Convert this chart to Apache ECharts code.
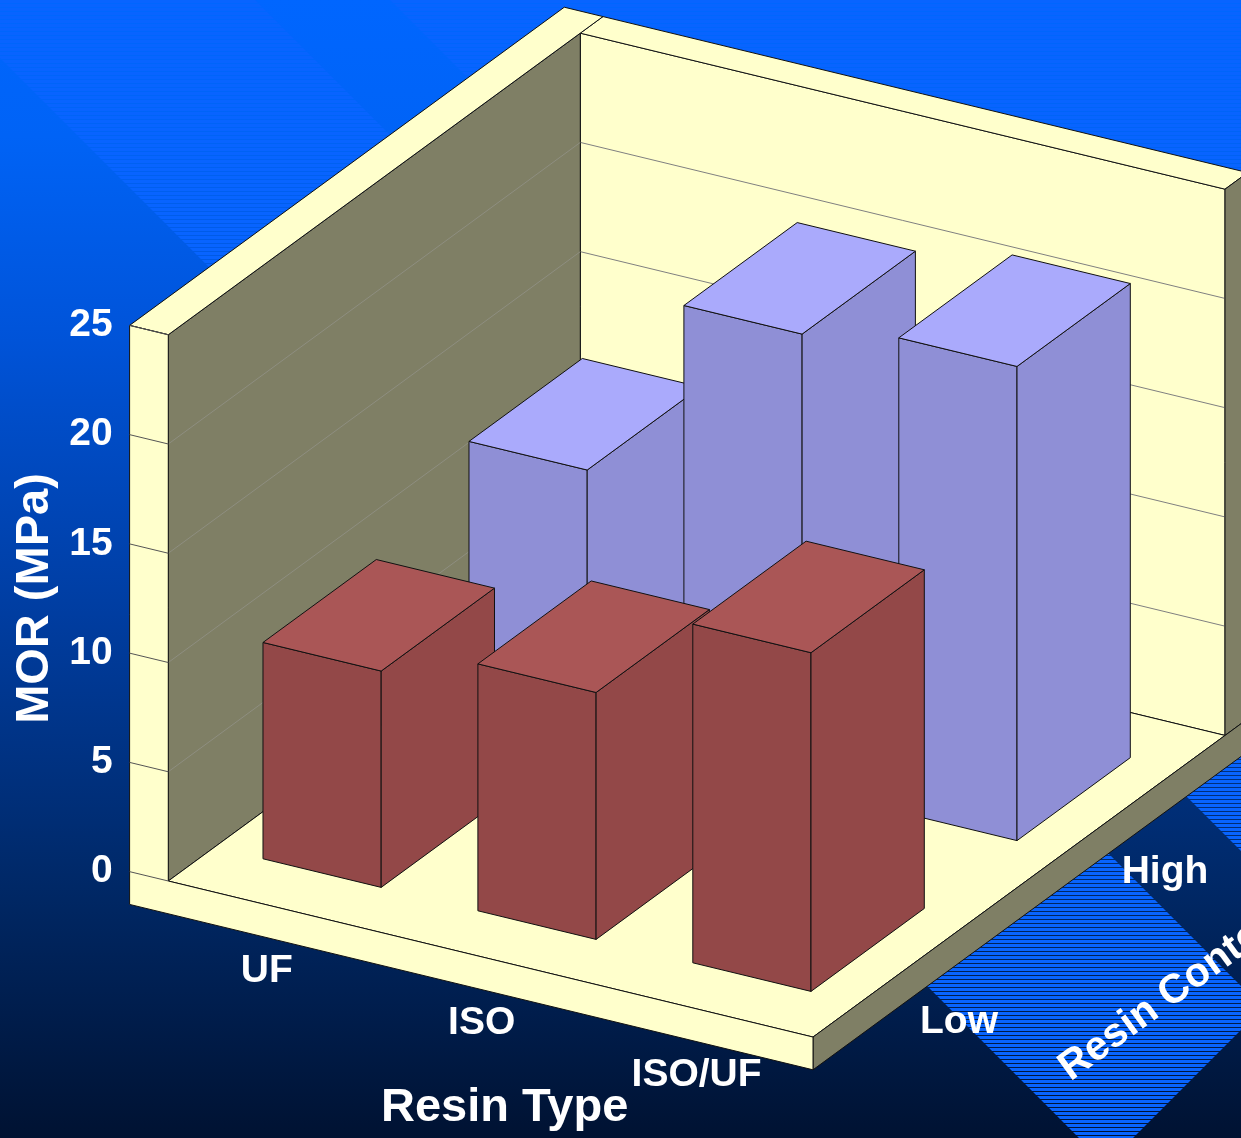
<!DOCTYPE html>
<html>
<head>
<meta charset="utf-8">
<script src="https://cdn.jsdelivr.net/npm/echarts@6/dist/echarts.min.js"></script>
<style>
html, body { margin: 0; padding: 0; background: #001030; }
#chart { width: 1241px; height: 1138px; }
</style>
</head>
<body>
<div id="chart"></div>
<script>
// data
var resinTypes = ['UF', 'ISO', 'ISO/UF'];
var resinContents = ['Low', 'High'];
var morLow = [9.9, 11.3, 15.5];
var morHigh = [12.2, 20.8, 21.7];
var yTicks = [0, 5, 10, 15, 20, 25];

// 3d box layout (in axis units)
var Y_MAX = 25;
var WALL_T = 0.18;      // left wall thickness, category units
var BACK_T = 0.11;      // back wall thickness, row units
var FLOOR_T = 1.5;      // floor thickness, MOR units
var BAR_W = 0.55, BAR_D = 0.55;
var SKEW = 0.242;       // screen drop per px along the category axis
var Z_DX = 0.9586, Z_DY = -0.7017;  // one row of depth, in category px

var FONT = '"Liberation Sans", Arial, sans-serif';
var C = {
  yellow: '#FFFFCC',
  olive: '#7F7F65',
  edge: '#111111',
  grid: '#808080',
  wallGrid: '#8E8E80',
  lowFront: '#934848', lowTop: '#AA5656',
  highFront: '#8F8FD6', highTop: '#AAAAFC'
};

// oblique projection; the y axis line sits on the outer front edge of the left wall
function makeProj(api) {
  var o = api.coord([0, 0]);
  var a = api.coord([1, 0]);
  var b = api.coord([0, 1]);
  var ux = a[0] - o[0];
  var uy = b[1] - o[1];
  return function (x, y, z) {
    return [o[0] + x * ux + z * ux * Z_DX,
            o[1] + y * uy + (x + WALL_T) * ux * SKEW + z * ux * Z_DY];
  };
}

function renderFrame(params, api) {
  var P = makeProj(api);
  var W = resinTypes.length, D = resinContents.length, T = Y_MAX;
  var xw = -WALL_T, zb = D + BACK_T, yb = -FLOOR_T;
  var ch = [];
  function face(pts, fill) {
    ch.push({ type: 'polygon', shape: { points: pts }, style: { fill: fill, stroke: C.edge, lineWidth: 1 } });
  }
  function line(a, b, color) {
    ch.push({ type: 'line', shape: { x1: a[0], y1: a[1], x2: b[0], y2: b[1] }, style: { stroke: color, lineWidth: 1 } });
  }
  function label(txt, p, dx, dy, size, rot) {
    ch.push({ type: 'text', x: p[0] + dx, y: p[1] + dy, rotation: rot || 0,
      style: { text: txt, fill: '#ffffff', font: 'bold ' + size + 'px ' + FONT, align: 'center', verticalAlign: 'middle' } });
  }

  // back wall
  face([P(0, 0, D), P(W, 0, D), P(W, T, D), P(0, T, D)], C.yellow);
  yTicks.forEach(function (v) { if (v > 0 && v < T) line(P(0, v, D), P(W, v, D), C.grid); });
  face([P(0, T, D), P(W, T, D), P(W, T, zb), P(0, T, zb)], C.yellow);
  face([P(W, 0, D), P(W, 0, zb), P(W, T, zb), P(W, T, D)], C.olive);
  // left wall
  face([P(0, 0, 0), P(0, 0, D), P(0, T, D), P(0, T, 0)], C.olive);
  yTicks.forEach(function (v) { if (v > 0 && v < T) line(P(0, v, 0), P(0, v, D), C.wallGrid); });
  face([P(xw, T, 0), P(0, T, 0), P(0, T, zb), P(xw, T, zb)], C.yellow);
  // floor
  face([P(0, 0, 0), P(W, 0, 0), P(W, 0, D), P(0, 0, D)], C.yellow);
  face([P(W, yb, 0), P(W, yb, zb), P(W, 0, zb), P(W, 0, 0)], C.olive);
  face([P(xw, T, 0), P(0, T, 0), P(0, 0, 0), P(W, 0, 0), P(W, yb, 0), P(xw, yb, 0)], C.yellow);
  yTicks.forEach(function (v) { line(P(xw, v, 0), P(0, v, 0), '#555555'); });

  // axis labels
  resinTypes.forEach(function (t, i) { label(t, P(i + 0.5, 0, 0), -9, 64, 39); });
  resinContents.forEach(function (t, j) { label(t, P(W, 0, j + 0.5), 43, 61, 39); });
  label('Resin Type', P(W / 2, 0, 0), 14, 149, 47);
  label('Resin Content', P(W, 0, D / 2), 157, 104, 41, Math.atan2(-Z_DY, Z_DX));

  return { type: 'group', children: ch };
}

function makeBarRender(row, front, top) {
  return function (params, api) {
    var P = makeProj(api);
    var i = api.value(0), h = api.value(1);
    var x0 = i + 0.5 - BAR_W / 2, x1 = x0 + BAR_W;
    var z0 = row + 0.5 - BAR_D / 2, z1 = z0 + BAR_D;
    var st = function (fill) { return { fill: fill, stroke: C.edge, lineWidth: 1 }; };
    return {
      type: 'group',
      children: [
        { type: 'polygon', shape: { points: [P(x0, 0, z0), P(x1, 0, z0), P(x1, h, z0), P(x0, h, z0)] }, style: st(front) },
        { type: 'polygon', shape: { points: [P(x1, 0, z0), P(x1, 0, z1), P(x1, h, z1), P(x1, h, z0)] }, style: st(front) },
        { type: 'polygon', shape: { points: [P(x0, h, z0), P(x1, h, z0), P(x1, h, z1), P(x0, h, z1)] }, style: st(top) }
      ]
    };
  };
}

// stripe texture for the slide background
var stripe = document.createElement('canvas');
stripe.width = 8; stripe.height = 4;
var sctx = stripe.getContext('2d');
sctx.fillStyle = '#0864FF';
sctx.fillRect(0, 0, 8, 3);

var chart = echarts.init(document.getElementById('chart'));

chart.setOption({
  animation: false,
  backgroundColor: new echarts.graphic.LinearGradient(0, 0, 0, 1, [
    { offset: 0, color: '#0066FF' },
    { offset: 0.12, color: '#0063F6' },
    { offset: 0.3, color: '#0053D8' },
    { offset: 0.55, color: '#003C9E' },
    { offset: 0.78, color: '#002866' },
    { offset: 1, color: '#001232' }
  ]),
  graphic: [
    { type: 'polygon', z: 0, silent: true, shape: { points: [[-58, 0], [255, 0], [1263, 1008], [1106, 1165]] },
      style: { fill: { image: stripe, repeat: 'repeat' } } },
    { type: 'polygon', z: 0, silent: true, shape: { points: [[390, 0], [1400, 0], [1400, 1010]] },
      style: { fill: { image: stripe, repeat: 'repeat' } } }
  ],
  grid: { left: 129.6, top: 325.4, width: 683.4, height: 546.25 },
  xAxis: { type: 'value', min: -WALL_T, max: resinTypes.length, show: false },
  yAxis: {
    type: 'value', min: 0, max: Y_MAX, interval: 5,
    axisLine: { show: false }, axisTick: { show: false }, splitLine: { show: false },
    axisLabel: { color: '#ffffff', fontSize: 39, fontWeight: 'bold', fontFamily: FONT, margin: 17 },
    name: 'MOR (MPa)', nameLocation: 'middle', nameRotate: 90, nameGap: 54,
    nameTextStyle: { color: '#ffffff', fontSize: 47, fontWeight: 'bold', fontFamily: FONT }
  },
  series: [
    { type: 'custom', name: 'frame', z: 2, silent: true, clip: false,
      data: [[0, 0]], renderItem: renderFrame },
    { type: 'custom', name: resinContents[1], z: 3, silent: true, clip: false,
      data: morHigh.map(function (v, i) { return [i, v]; }),
      renderItem: makeBarRender(1, C.highFront, C.highTop) },
    { type: 'custom', name: resinContents[0], z: 4, silent: true, clip: false,
      data: morLow.map(function (v, i) { return [i, v]; }),
      renderItem: makeBarRender(0, C.lowFront, C.lowTop) }
  ]
});
</script>
</body>
</html>
